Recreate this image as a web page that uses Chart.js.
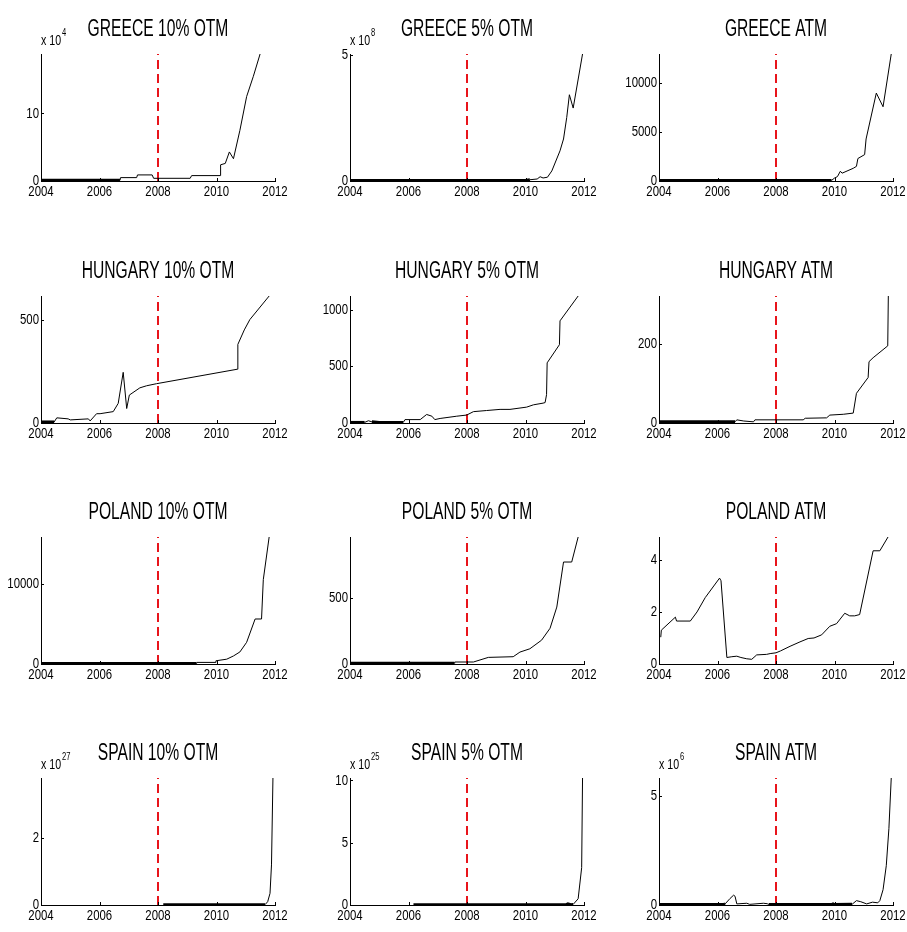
<!DOCTYPE html>
<html>
<head>
<meta charset="utf-8">
<script src="https://cdn.jsdelivr.net/npm/chart.js@4.4.1/dist/chart.umd.min.js"></script>
<style>
  body { margin: 0; background: #fff; }
  #grid { position: relative; width: 907px; height: 932px; }
  #grid canvas { position: absolute; }
</style>
</head>
<body>
<div id="grid"></div>
<script>
const FONT = "'Liberation Sans', Arial, sans-serif";

const titles = [
  "GREECE 10% OTM", "GREECE 5% OTM", "GREECE ATM",
  "HUNGARY 10% OTM", "HUNGARY 5% OTM", "HUNGARY ATM",
  "POLAND 10% OTM", "POLAND 5% OTM", "POLAND ATM",
  "SPAIN 10% OTM", "SPAIN 5% OTM", "SPAIN ATM",
];

const xTicks = [2004, 2006, 2008, 2010, 2012];
const crisisYear = 2008;

// exponent shown as "x 10^n" above the axis (null = none)
const exponents = ["4", "8", null, null, null, null, null, null, null, "27", "25", "6"];

const yTicks = [
  [0, 10], [0, 5], [0, 5000, 10000],
  [0, 500], [0, 500, 1000], [0, 200],
  [0, 10000], [0, 500], [0, 2, 4],
  [0, 2], [0, 5, 10], [0, 5],
];

const yMax = [18.8, 5.05, 13000, 614, 1119, 321, 15800, 959, 4.88, 3.8, 10.2, 5.82];

// [year, value] in the units shown on each axis
const greece10 = [[2004,0.1],[2006.7,0.1],[2006.72,0.5],[2007.27,0.5],[2007.3,0.9],[2007.8,0.9],[2007.85,0.4],[2009.1,0.4],[2009.15,0.8],[2010.13,0.8],[2010.14,2.4],[2010.3,2.6],[2010.44,4.3],[2010.58,3.3],[2010.8,7.5],[2011.03,12.5],[2011.26,15.5],[2011.49,18.8]];
const greece5 = [[2004,0.02],[2010.0,0.02],[2010.15,0.05],[2010.4,0.08],[2010.5,0.17],[2010.6,0.12],[2010.75,0.15],[2010.9,0.4],[2011.18,1.2],[2011.3,1.67],[2011.41,2.53],[2011.5,3.43],[2011.63,2.9],[2011.95,5.05]];
const greeceAtm = [[2004,60],[2009.9,60],[2010.0,300],[2010.1,450],[2010.2,1000],[2010.26,800],[2010.64,1300],[2010.75,1500],[2010.8,2300],[2011.03,2700],[2011.08,4300],[2011.43,9000],[2011.66,7600],[2011.94,13000]];
const hungary10 = [[2004,5],[2004.45,5],[2004.54,25],[2004.93,20],[2005.0,15],[2005.62,20],[2005.68,10],[2005.9,45],[2006.02,45],[2006.47,55],[2006.64,95],[2006.81,245],[2006.93,70],[2007.02,135],[2007.38,170],[2007.61,180],[2007.95,190],[2010.71,260],[2010.73,380],[2010.95,450],[2011.14,500],[2011.8,614]];
const hungary5 = [[2004,5],[2004.5,5],[2004.63,20],[2004.75,10],[2005,5],[2005.82,5],[2005.88,30],[2006.4,30],[2006.62,75],[2006.8,60],[2006.9,30],[2007.08,40],[2007.65,60],[2007.99,70],[2008.22,100],[2008.67,110],[2009.13,120],[2009.47,120],[2010.04,140],[2010.27,160],[2010.6,175],[2010.67,180],[2010.72,250],[2010.74,530],[2011.16,690],[2011.18,900],[2011.8,1119]];
const hungaryAtm = [[2004,3],[2006.6,3],[2006.66,8],[2006.9,5],[2007.23,3],[2007.28,8],[2008.93,8],[2009.0,12],[2009.73,13],[2009.84,20],[2010.3,22],[2010.64,25],[2010.75,75],[2011.15,115],[2011.18,155],[2011.32,165],[2011.82,195],[2011.84,321]];
const poland10 = [[2004,50],[2009.3,50],[2009.32,200],[2009.95,200],[2009.98,400],[2010.35,600],[2010.58,1000],[2010.8,1500],[2011.03,2700],[2011.32,5600],[2011.54,5600],[2011.6,10500],[2011.8,15800]];
const poland5 = [[2004,5],[2007.56,5],[2007.58,15],[2008.22,15],[2008.73,50],[2009.58,55],[2009.81,90],[2010.15,115],[2010.55,180],[2010.84,270],[2011.07,430],[2011.3,770],[2011.58,770],[2011.8,959]];
const polandAtm = [[2004.06,1.03],[2004.08,1.3],[2004.56,1.8],[2004.6,1.65],[2005.07,1.65],[2005.3,2.0],[2005.58,2.55],[2006.07,3.3],[2006.12,3.2],[2006.32,0.25],[2006.49,0.28],[2006.66,0.3],[2006.8,0.25],[2007.0,0.2],[2007.17,0.18],[2007.34,0.35],[2007.68,0.37],[2007.8,0.4],[2008.0,0.43],[2008.15,0.5],[2008.48,0.68],[2008.82,0.85],[2009.1,0.98],[2009.3,1.0],[2009.56,1.12],[2009.84,1.45],[2010.07,1.55],[2010.35,1.95],[2010.52,1.85],[2010.69,1.85],[2010.86,1.9],[2011.32,4.35],[2011.55,4.35],[2011.83,4.88]];
const spain10 = [[2008.18,0.01],[2011.66,0.01],[2011.75,0.1],[2011.83,0.35],[2011.88,1.2],[2011.93,3.8]];
const spain5 = [[2006.17,0.03],[2011.4,0.03],[2011.45,0.1],[2011.55,0.03],[2011.63,0.05],[2011.8,0.5],[2011.92,3.0],[2011.95,10.2]];
const spainAtm = [[2004,0.02],[2006.2,0.02],[2006.26,0.05],[2006.43,0.3],[2006.55,0.45],[2006.6,0.4],[2006.66,0.05],[2007.0,0.08],[2007.1,0.03],[2007.57,0.08],[2007.7,0.06],[2007.75,0.02],[2009.9,0.02],[2009.95,0.05],[2010.0,0.02],[2010.6,0.03],[2010.75,0.2],[2010.9,0.15],[2011.1,0.05],[2011.3,0.13],[2011.48,0.1],[2011.55,0.2],[2011.66,0.7],[2011.77,1.8],[2011.86,3.5],[2011.94,5.82]];

const series = [greece10, greece5, greeceAtm, hungary10, hungary5, hungaryAtm, poland10, poland5, polandAtm, spain10, spain5, spainAtm];

// draw text squeezed sideways, like the narrow matlab font
function squeezed(ctx, text, x, y, sx, align) {
  ctx.save();
  ctx.translate(x, y);
  ctx.scale(sx, 1);
  ctx.textAlign = align;
  ctx.fillText(text, 0, 0);
  ctx.restore();
}

// titles, tick labels, exponent label and inward tick marks, matlab style
const panelDecor = {
  id: "panelDecor",
  afterDraw(chart, args, opts) {
    const { ctx, chartArea: a, scales } = chart;
    ctx.save();
    ctx.strokeStyle = "#000";
    ctx.lineWidth = 1;
    ctx.beginPath();
    scales.x.ticks.forEach((t) => {
      const px = Math.round(scales.x.getPixelForValue(t.value)) + 0.5;
      ctx.moveTo(px, a.bottom);
      ctx.lineTo(px, a.bottom - 3);
    });
    scales.y.ticks.forEach((t) => {
      const py = Math.round(scales.y.getPixelForValue(t.value)) + 0.5;
      ctx.moveTo(a.left, py);
      ctx.lineTo(a.left + 3, py);
    });
    ctx.stroke();

    ctx.fillStyle = "#000";
    ctx.font = "15px " + FONT;
    ctx.textBaseline = "top";
    scales.x.ticks.forEach((t) => {
      squeezed(ctx, String(t.value), scales.x.getPixelForValue(t.value), a.bottom + 3, 0.76, "center");
    });
    ctx.textBaseline = "middle";
    scales.y.ticks.forEach((t) => {
      squeezed(ctx, String(t.value), a.left - 2, scales.y.getPixelForValue(t.value), 0.76, "right");
    });

    ctx.textBaseline = "alphabetic";
    ctx.font = "23px " + FONT;
    squeezed(ctx, opts.title, (a.left + a.right) / 2, a.top - 18, 0.68, "center");

    if (opts.exp) {
      ctx.font = "14px " + FONT;
      squeezed(ctx, "x 10", a.left, a.top - 9, 0.76, "left");
      const w = ctx.measureText("x 10").width * 0.76;
      ctx.font = "10px " + FONT;
      squeezed(ctx, opts.exp, a.left + w + 1, a.top - 18, 0.76, "left");
    }
    ctx.restore();
  },
};

const grid = document.getElementById("grid");
const rowTops = [0, 242, 483, 724];

series.forEach((data, i) => {
  const col = i % 3;
  const row = Math.floor(i / 3);
  const canvas = document.createElement("canvas");
  canvas.width = 300;
  canvas.height = 210;
  canvas.style.left = col * 309 + "px";
  canvas.style.top = rowTops[row] + "px";
  grid.appendChild(canvas);

  // dense noisy stretches close to zero print as a heavy line in the original
  const nearZero = yMax[i] * 0.01;

  new Chart(canvas.getContext("2d"), {
    type: "line",
    data: {
      datasets: [
        {
          data: data,
          borderColor: "#000",
          borderWidth: 1,
          pointRadius: 0,
          tension: 0,
          segment: {
            borderWidth: (c) => (c.p0.parsed.y < nearZero && c.p1.parsed.y < nearZero ? 3 : 1),
          },
        },
        {
          data: [[crisisYear, 0], [crisisYear, yMax[i]]],
          borderColor: "#e8141b",
          borderWidth: 2,
          borderDash: [9, 5],
          pointRadius: 0,
        },
      ],
    },
    options: {
      responsive: false,
      animation: false,
      events: [],
      layout: { padding: { top: 54, right: 25, left: 0, bottom: 0 } },
      plugins: {
        legend: { display: false },
        tooltip: { enabled: false },
        panelDecor: { title: titles[i], exp: exponents[i] },
      },
      scales: {
        x: {
          type: "linear",
          min: 2004,
          max: 2012,
          afterBuildTicks: (s) => { s.ticks = xTicks.map((v) => ({ value: v })); },
          afterFit: (s) => { s.height = 29; },
          grid: { display: false, drawTicks: false },
          border: { display: true, color: "#000", width: 1 },
          ticks: { display: false },
        },
        y: {
          type: "linear",
          min: 0,
          max: yMax[i],
          afterBuildTicks: (s) => { s.ticks = yTicks[i].map((v) => ({ value: v })); },
          afterFit: (s) => { s.width = 41; },
          grid: { display: false, drawTicks: false },
          border: { display: true, color: "#000", width: 1 },
          ticks: { display: false },
        },
      },
    },
    plugins: [panelDecor],
  });
});
</script>
</body>
</html>
